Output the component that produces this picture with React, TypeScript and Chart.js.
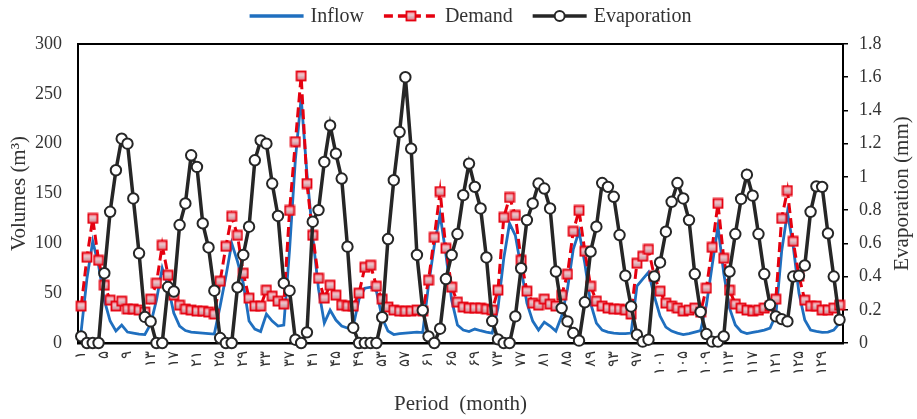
import React, { useEffect, useRef } from 'react';
import { Chart, registerables } from 'chart.js';

Chart.register(...registerables);

const FONT = "'Liberation Serif', 'Times New Roman', 'DejaVu Serif', serif";

// Months 1..132 (categories)
const months: number[] = Array.from({ length: 132 }, (_, i) => i + 1);

const tickMonths: number[] = [
  1, 5, 9, 13, 17, 21, 25, 29, 33, 37, 41, 45, 49, 53, 57, 61, 65,
  69, 73, 77, 81, 85, 89, 93, 97, 101, 105, 109, 113, 117, 121, 125, 129,
];

const inflow: number[] = [
  12, 65, 102, 78, 43, 22, 12, 18, 11, 10, 9, 8.5,
  19, 43, 75, 57, 30, 17, 12.5, 11, 10.5, 10, 9.5, 9,
  37, 67, 100, 82, 60, 22, 14, 11.5, 29, 22, 17, 18,
  94, 184, 246, 170, 107, 54, 20, 33, 23, 17, 15, 17,
  44, 55, 56, 52, 25, 12, 8.5, 9.5, 10, 10.5, 11, 10.5,
  58, 98, 129, 89, 43, 18, 13, 11.5, 14, 12.3, 11, 10,
  35, 85, 120, 108, 75, 40, 22, 13, 21, 17, 12, 27,
  54, 94, 112, 80, 40, 20, 13, 11, 10, 9.4, 9.4, 10,
  57, 64, 71, 47, 27, 16, 12, 10, 8.5, 9.5, 11, 12.5,
  38, 78, 117, 70, 35, 18, 11.6, 9.4, 10.6, 11.6, 13, 15,
  28, 92, 131, 97, 50, 23, 13, 11.6, 10.6, 11, 13, 20,
];

const demand: number[] = [
  37, 86, 125, 83, 58, 43, 37, 42, 34, 34, 33, 31,
  44, 60, 98, 68, 48, 38, 34, 33, 32, 32, 31, 29,
  62, 97, 127, 108, 70, 45, 37, 37, 53, 47, 42, 39,
  133, 202, 268, 160, 108, 65, 45, 58, 48, 38, 37, 37,
  50, 76, 78, 57, 44, 36, 33, 32, 32, 32, 33, 32,
  63, 106, 152, 95, 56, 41, 36, 35, 35, 35, 34, 33,
  53, 126, 146, 128, 83, 52, 40, 38, 44, 39, 37, 48,
  69, 112, 133, 92, 57, 42, 37, 35, 34, 34, 33, 29,
  80, 87, 94, 67, 52, 40, 37, 35, 32, 33, 35, 31,
  55, 96, 140, 85, 53, 39, 35, 33, 32, 33, 35, 37,
  44, 125, 153, 102, 67, 43, 37, 37, 33, 33, 35, 38,
];

const evaporation: number[] = [
  0.04, 0, 0, 0, 0.42, 0.79, 1.04, 1.23, 1.2, 0.87, 0.54, 0.157,
  0.13, 0, 0, 0.337, 0.31, 0.71, 0.84, 1.13, 1.06, 0.72, 0.575, 0.315,
  0.03, 0, 0, 0.335, 0.53, 0.7, 1.1, 1.22, 1.2, 0.96, 0.765, 0.36,
  0.315, 0.02, 0, 0.064, 0.73, 0.8, 1.09, 1.31, 1.14, 0.99, 0.58, 0.092,
  0, 0, 0, 0, 0.155, 0.626, 0.98, 1.27, 1.6, 1.17, 0.53, 0.197,
  0.04, 0, 0.086, 0.385, 0.53, 0.656, 0.89, 1.08, 0.94, 0.81, 0.515, 0.132,
  0.022, 0, 0, 0.16, 0.45, 0.74, 0.84, 0.96, 0.93, 0.81, 0.43, 0.21,
  0.13, 0.06, 0.014, 0.245, 0.55, 0.7, 0.963, 0.94, 0.88, 0.65, 0.405, 0.22,
  0.05, 0.008, 0.02, 0.4, 0.485, 0.67, 0.85, 0.963, 0.87, 0.74, 0.415, 0.187,
  0.054, 0.008, 0.008, 0.04, 0.43, 0.656, 0.867, 1.013, 0.887, 0.656, 0.415, 0.23,
  0.16, 0.144, 0.13, 0.4, 0.405, 0.467, 0.79, 0.943, 0.94, 0.66, 0.4, 0.14,
];

const seriesNames = ['Inflow', 'Demand', 'Evaporation'];
const xTitle = 'Period  (month)';
const yTitle = 'Volumes (m³)';
const y1Title = 'Evaporation (mm)';

const BLUE = '#1F6FBF';
const RED = '#E5000F';
const DARK = '#262626';
const TEXT = '#333333';

const toPersian = (v: number | string) =>
  String(v).replace(/\d/g, (d) => '۰۱۲۳۴۵۶۷۸۹'[Number(d)]);

function makeSquare(): HTMLCanvasElement {
  const c = document.createElement('canvas');
  c.width = 12;
  c.height = 12;
  const g = c.getContext('2d')!;
  const grad = g.createLinearGradient(0, 1, 0, 11);
  grad.addColorStop(0, '#EE7A88');
  grad.addColorStop(0.4, '#F4C4CB');
  grad.addColorStop(0.55, '#D8B6BC');
  grad.addColorStop(1, '#EA6A79');
  g.fillStyle = grad;
  g.fillRect(1, 1, 10, 10);
  g.strokeStyle = RED;
  g.lineWidth = 1.8;
  g.strokeRect(1.5, 1.5, 9, 9);
  return c;
}

export default function App() {
  const ref = useRef<HTMLCanvasElement | null>(null);

  useEffect(() => {
    if (!ref.current) return;
    const square = makeSquare();

    const decor = {
      id: 'decor',
      beforeDatasetsDraw(chart: any) {
        const { ctx, chartArea: a } = chart;
        ctx.save();
        ctx.strokeStyle = '#000';
        ctx.lineWidth = 2;
        ctx.beginPath();
        ctx.moveTo(a.left - 1, a.top);
        ctx.lineTo(a.right + 1, a.top);
        ctx.stroke();
        ctx.restore();
      },
      afterDraw(chart: any) {
        const { ctx, chartArea: a } = chart;
        ctx.save();
        ctx.fillStyle = TEXT;
        ctx.font = `21px ${FONT}`;
        ctx.textAlign = 'center';
        ctx.textBaseline = 'middle';
        const cy = (a.top + a.bottom) / 2;
        // left title
        ctx.save();
        ctx.translate(a.left - 59, cy);
        ctx.rotate(-Math.PI / 2);
        ctx.fillText(yTitle, 0, 0);
        ctx.restore();
        // right title
        ctx.save();
        ctx.translate(a.right + 59, cy);
        ctx.rotate(-Math.PI / 2);
        ctx.fillText(y1Title, 0, 0);
        ctx.restore();
        // bottom title
        ctx.fillText(xTitle, (a.left + a.right) / 2, a.bottom + 61);

        // legend
        ctx.font = `20px ${FONT}`;
        const sample = 54;
        const gapText = 7;
        const gapItem = 20;
        const widths = seriesNames.map((n) => ctx.measureText(n).width);
        const total =
          widths.reduce((s, w) => s + sample + gapText + w, 0) + gapItem * (seriesNames.length - 1);
        let x = (a.left + a.right) / 2 + 10 - total / 2;
        const ly = a.top - 28;
        seriesNames.forEach((name, i) => {
          ctx.save();
          ctx.lineCap = 'butt';
          if (i === 0) {
            ctx.strokeStyle = BLUE;
            ctx.lineWidth = 3.5;
          } else if (i === 1) {
            ctx.strokeStyle = RED;
            ctx.lineWidth = 3.5;
            ctx.setLineDash([9, 5]);
          } else {
            ctx.strokeStyle = DARK;
            ctx.lineWidth = 3.5;
          }
          ctx.beginPath();
          ctx.moveTo(x, ly);
          ctx.lineTo(x + sample, ly);
          ctx.stroke();
          ctx.setLineDash([]);
          const mx = x + sample / 2;
          if (i === 1) {
            ctx.drawImage(square, mx - 6, ly - 6);
          } else if (i === 2) {
            ctx.beginPath();
            ctx.arc(mx, ly, 5, 0, Math.PI * 2);
            ctx.fillStyle = '#fff';
            ctx.fill();
            ctx.lineWidth = 2;
            ctx.strokeStyle = DARK;
            ctx.stroke();
          }
          ctx.restore();
          ctx.fillStyle = TEXT;
          ctx.textAlign = 'left';
          ctx.fillText(name, x + sample + gapText, ly + 1);
          x += sample + gapText + widths[i] + gapItem;
        });
        ctx.restore();
      },
    };

    const chart = new Chart(ref.current, {
      type: 'line',
      data: {
        datasets: [
          {
            label: seriesNames[0],
            data: months.map((m, i) => ({ x: m, y: inflow[i] })),
            borderColor: BLUE,
            backgroundColor: BLUE,
            borderWidth: 2.8,
            pointRadius: 0,
            yAxisID: 'y',
            order: 2,
            clip: false as any,
          },
          {
            label: seriesNames[1],
            data: months.map((m, i) => ({ x: m, y: demand[i] })),
            borderColor: RED,
            backgroundColor: RED,
            borderWidth: 3,
            borderDash: [10, 5],
            pointStyle: square as any,
            pointRadius: 6,
            yAxisID: 'y',
            order: 1,
            clip: false as any,
          },
          {
            label: seriesNames[2],
            data: months.map((m, i) => ({ x: m, y: evaporation[i] })),
            borderColor: DARK,
            backgroundColor: '#fff',
            borderWidth: 3.5,
            pointStyle: 'circle',
            pointRadius: 5.2,
            pointBackgroundColor: '#fff',
            pointBorderColor: DARK,
            pointBorderWidth: 2,
            yAxisID: 'y1',
            order: 0,
            clip: false as any,
          },
        ],
      },
      options: {
        animation: false,
        responsive: true,
        maintainAspectRatio: false,
        layout: { padding: { top: 44, left: 0, right: 0, bottom: 0 } },
        plugins: {
          legend: { display: false },
          tooltip: { enabled: false },
        },
        scales: {
          x: {
            type: 'linear',
            min: 0.45,
            max: 132.6,
            afterBuildTicks: (axis: any) => {
              axis.ticks = tickMonths.map((v) => ({ value: v }));
            },
            afterFit: (s: any) => {
              s.height = 76;
            },
            ticks: {
              autoSkip: false,
              maxRotation: 90,
              minRotation: 90,
              padding: 4,
              color: TEXT,
              font: { family: FONT, size: 15 },
              callback: (v: any) => toPersian(v),
            },
            grid: { display: true, drawOnChartArea: false, color: 'transparent', tickLength: 4 },
            border: { display: true, color: '#000', width: 2.5 },
          },
          y: {
            position: 'left',
            min: 0,
            max: 300,
            afterFit: (s: any) => {
              s.width = 78;
            },
            ticks: {
              stepSize: 50,
              padding: 8,
              color: TEXT,
              font: { family: FONT, size: 18 },
            },
            grid: { display: true, drawOnChartArea: false, color: 'transparent', tickLength: 8 },
            border: { display: true, color: '#000', width: 2 },
          },
          y1: {
            position: 'right',
            min: 0,
            max: 1.8,
            afterFit: (s: any) => {
              s.width = 74;
            },
            ticks: {
              stepSize: 0.2,
              padding: 11,
              color: TEXT,
              font: { family: FONT, size: 18 },
              callback: (v: any) => String(Math.round(Number(v) * 10) / 10),
            },
            grid: { display: true, drawOnChartArea: false, color: '#000', lineWidth: 1.5, tickLength: 5 },
            border: { display: true, color: '#000', width: 2 },
          },
        },
      } as any,
      plugins: [decor],
    });

    return () => chart.destroy();
  }, []);

  return (
    <div style={{ position: 'fixed', left: 0, top: 0, width: 917, height: 419, background: '#fff' }}>
      <canvas ref={ref} />
    </div>
  );
}
